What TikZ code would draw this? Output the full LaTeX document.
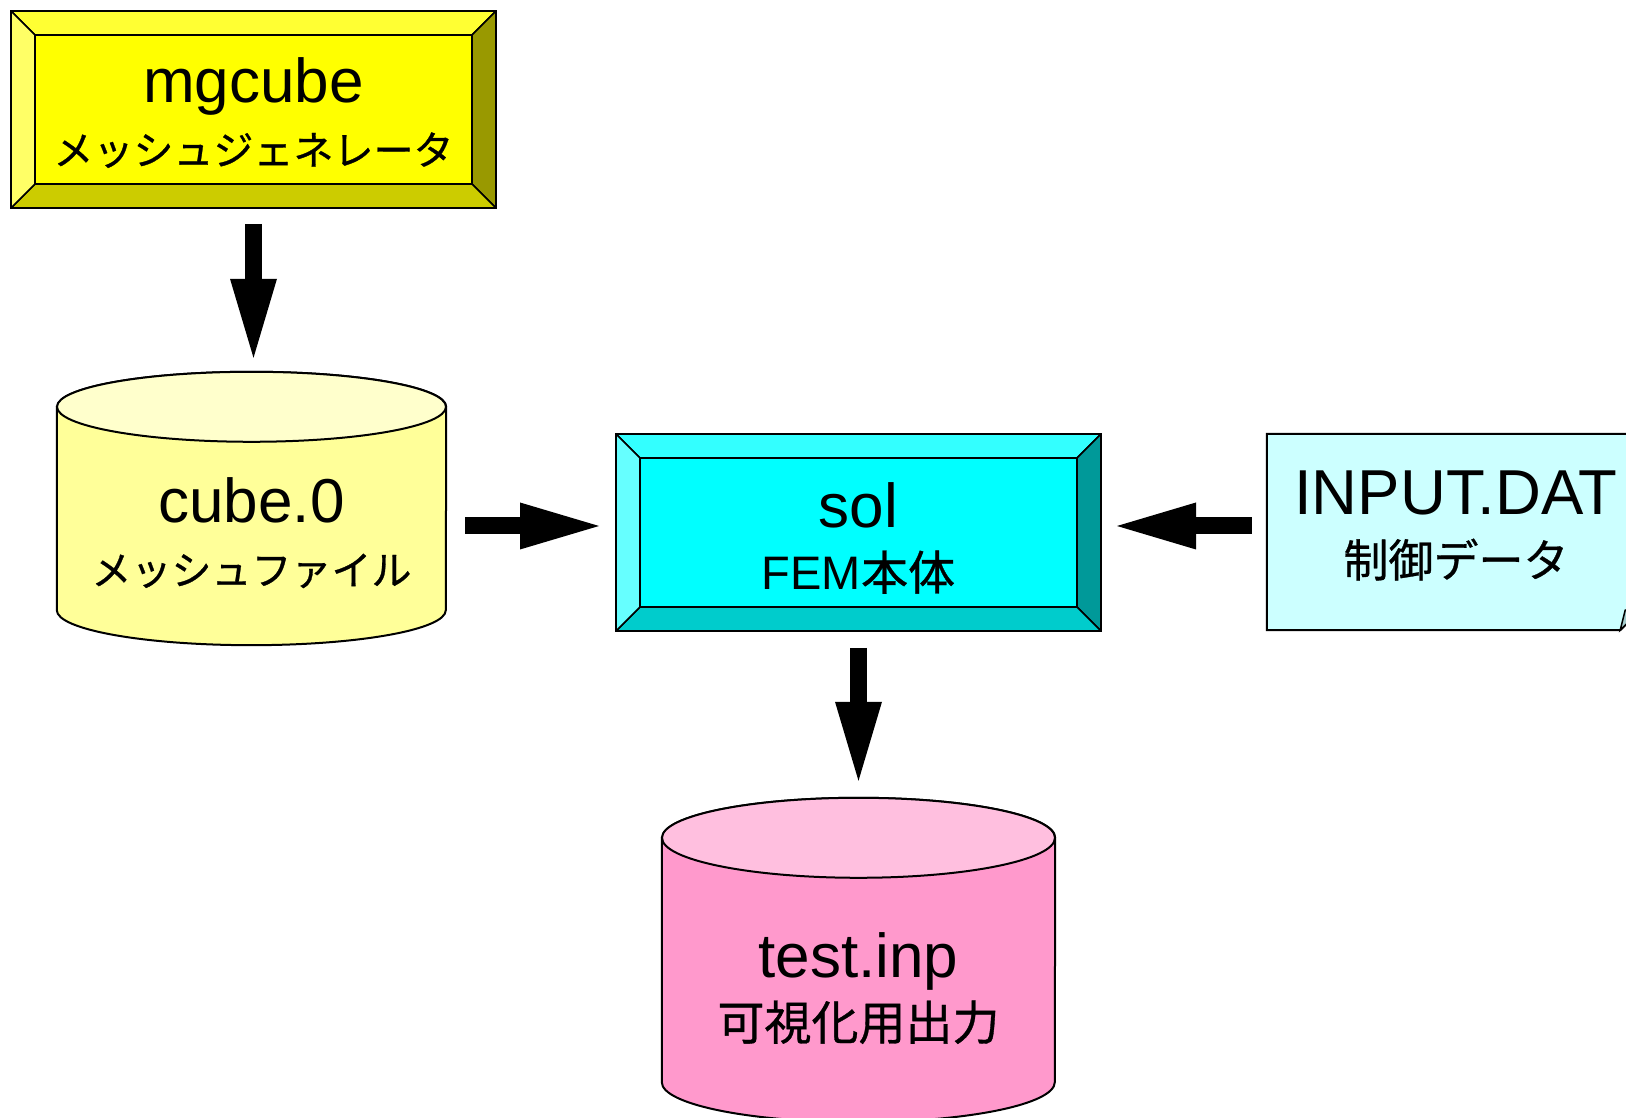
\documentclass[tikz,border=0pt]{standalone}
\usepackage{fontspec}
\setmainfont{Liberation Sans}
\newfontfamily\jp[FakeBold=0.7]{Noto Sans CJK JP}
\usepackage{xcolor}
\usetikzlibrary{arrows.meta}
\usetikzlibrary{backgrounds}

\definecolor{mgface}{HTML}{FFFF00}
\definecolor{mgtop}{HTML}{FFFF33}
\definecolor{mgleft}{HTML}{FFFF66}
\definecolor{mgbottom}{HTML}{CCCC00}
\definecolor{mgright}{HTML}{999900}
\definecolor{solface}{HTML}{00FFFF}
\definecolor{soltop}{HTML}{33FFFF}
\definecolor{solleft}{HTML}{66FFFF}
\definecolor{solbottom}{HTML}{00CCCC}
\definecolor{solright}{HTML}{009999}
\definecolor{meshbody}{HTML}{FFFF99}
\definecolor{meshtop}{HTML}{FFFFCC}
\definecolor{outbody}{HTML}{FF99CC}
\definecolor{outtop}{HTML}{FFBFDF}
\definecolor{ctrlfill}{HTML}{CCFFFF}
\definecolor{ctrlfold}{HTML}{A3CCCC}

\newcommand{\jpS}{\jp\fontsize{40pt}{62pt}\selectfont}
\newcommand{\jpM}{\fontsize{45pt}{62pt}\selectfont}
\newcommand{\jpL}{\fontsize{47pt}{62pt}\selectfont}

\tikzset{
  bevel/.style n args={5}{draw, line width=2pt, fill=#1,
    minimum width=485pt, minimum height=197pt,
    path picture={
      \path (path picture bounding box.north west) coordinate (pnw)
            (path picture bounding box.north east) coordinate (pne)
            (path picture bounding box.south east) coordinate (pse)
            (path picture bounding box.south west) coordinate (psw);
      \path ([shift={(24pt,-24pt)}]pnw) coordinate (qnw)
            ([shift={(-24pt,-24pt)}]pne) coordinate (qne)
            ([shift={(-24pt,24pt)}]pse) coordinate (qse)
            ([shift={(24pt,24pt)}]psw) coordinate (qsw);
      \filldraw[fill=#2, line width=1.5pt] (pnw) -- (pne) -- (qne) -- (qnw) -- cycle;
      \filldraw[fill=#5, line width=1.5pt] (pne) -- (pse) -- (qse) -- (qne) -- cycle;
      \filldraw[fill=#4, line width=1.5pt] (pse) -- (psw) -- (qsw) -- (qse) -- cycle;
      \filldraw[fill=#3, line width=1.5pt] (psw) -- (pnw) -- (qnw) -- (qsw) -- cycle;
      \draw[line width=2pt] (qnw) rectangle (qse);
    }},
  tbase/.style={text height=#1, text depth=0pt},
  bigarrow/.style={line width=17pt,
    -{Triangle[length=79pt, width=47pt, line width=0pt]}}
}

% name, x radius, y radius, body colour, top colour
\newcommand{\cyl}[5]{
  \begin{scope}[on background layer]
    \filldraw[fill=#4, line width=2pt] ([yshift=#3pt]#1.north west) -- (#1.south west)
      arc[start angle=180, end angle=360, x radius=#2pt, y radius=#3pt]
      -- ([yshift=#3pt]#1.north east)
      arc[start angle=0, end angle=180, x radius=#2pt, y radius=#3pt] -- cycle;
    \filldraw[fill=#5, line width=2pt] ([yshift=#3pt]#1.north) ellipse[x radius=#2pt, y radius=#3pt];
  \end{scope}
  \coordinate (#1-top) at ([yshift=2*#3pt]#1.north);
}

\begin{document}
\begin{tikzpicture}[x=1pt, y=1pt,
  every node/.style={font=\fontsize{62pt}{62pt}\selectfont, align=center}]
  \useasboundingbox (0,0) rectangle (1626,1118);

  \node[bevel={mgface}{mgtop}{mgleft}{mgbottom}{mgright}, tbase=111pt] (mg) at (253.5,1008.5)
    {mgcube\\{\jpS メッシュジェネレータ}};
  \node[bevel={solface}{soltop}{solleft}{solbottom}{solright}, tbase=115pt] (sol) at (858.5,585.5)
    {sol\\{\jpL FEM{\jp 本体}}};

  \node[minimum width=389pt, minimum height=168pt, tbase=118pt] (cube) at (251.5,592)
    {cube.0\\{\jpS メッシュファイル}};
  \cyl{cube}{194.5}{35}{meshbody}{meshtop}

  \node[minimum width=393pt, minimum height=204pt, tbase=120pt] (test) at (858.5,138)
    {test.inp\\{\jpL\jp 可視化用出力}};
  \cyl{test}{196.5}{40}{outbody}{outtop}

  \node[minimum width=378pt, minimum height=196pt, tbase=90pt,
    font=\fontsize{63.5pt}{62pt}\selectfont] (inp) at (1456,586)
    {INPUT.DAT\\{\jpM\jp 制御データ}};
  \begin{scope}[on background layer]
    \filldraw[fill=ctrlfill, line width=2pt] (inp.north west) -- (inp.north east)
      -- ([yshift=25pt]inp.south east) -- ([xshift=-25pt]inp.south east) -- (inp.south west) -- cycle;
    \filldraw[fill=ctrlfold, line width=1.5pt] ([xshift=-25pt]inp.south east)
      -- ([shift={(-20pt,20pt)}]inp.south east) -- ([yshift=25pt]inp.south east) -- cycle;
  \end{scope}

  \draw[bigarrow, shorten <=15pt, shorten >=14pt] (mg.south) -- (mg.south |- cube-top);
  \draw[bigarrow, shorten <=19pt, shorten >=16pt] (cube.east) -- (cube.east -| sol.west);
  \draw[bigarrow, shorten <=15pt, shorten >=15pt] (inp.west |- cube.east) -- (sol.east |- cube.east);
  \draw[bigarrow, shorten <=16pt, shorten >=17pt] (sol.south) -- (test-top);
\end{tikzpicture}
\end{document}
